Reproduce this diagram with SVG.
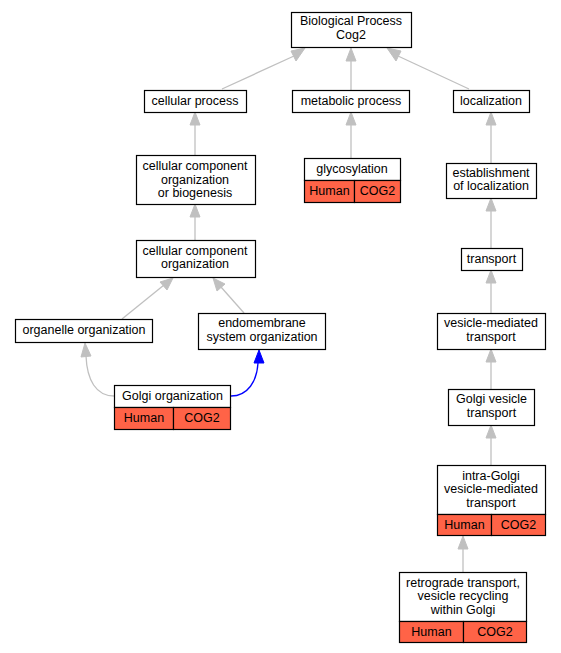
<svg xmlns="http://www.w3.org/2000/svg" width="561" height="653" viewBox="0 0 561 653">
<defs>
<style>
.b{fill:#fff;stroke:#000;stroke-width:1.2}
.o{fill:#ff6347;stroke:#000;stroke-width:1.2}
text{font-family:"Liberation Sans",Arial,sans-serif;font-size:12.5px;text-anchor:middle;fill:#000}
.e{fill:none;stroke:#c0c0c0;stroke-width:1.3}
.h{fill:#c0c0c0;stroke:#c0c0c0}
</style>
</defs>
<rect width="561" height="653" fill="#fff"/>
<g id="edges">
<line class="e" x1="222" y1="89" x2="294" y2="56"/>
<polygon class="h" points="305,48 291,51 296,61"/>
<line class="e" x1="351" y1="90" x2="351" y2="60"/>
<polygon class="h" points="351,48 346,61 356,61"/>
<line class="e" x1="469" y1="89" x2="398" y2="56"/>
<polygon class="h" points="387,48 396,61 401,51"/>
<line class="e" x1="351" y1="158" x2="351" y2="124"/>
<polygon class="h" points="351,112 346,125 356,125"/>
<line class="e" x1="195" y1="155" x2="195" y2="124"/>
<polygon class="h" points="195,112 190,125 200,125"/>
<line class="e" x1="195" y1="240" x2="195" y2="216"/>
<polygon class="h" points="195,204 190,217 200,217"/>
<line class="e" x1="491" y1="163" x2="491" y2="124"/>
<polygon class="h" points="491,112 486,125 496,125"/>
<line class="e" x1="491" y1="248" x2="491" y2="210"/>
<polygon class="h" points="491,198 486,211 496,211"/>
<line class="e" x1="491" y1="313" x2="491" y2="282"/>
<polygon class="h" points="491,270 486,283 496,283"/>
<line class="e" x1="491" y1="389" x2="491" y2="361"/>
<polygon class="h" points="491,349 486,362 496,362"/>
<line class="e" x1="491" y1="465" x2="491" y2="437"/>
<polygon class="h" points="491,425 486,438 496,438"/>
<line class="e" x1="463" y1="572" x2="463" y2="548"/>
<polygon class="h" points="463,536 458,549 468,549"/>
<line class="e" x1="122" y1="319" x2="164" y2="285"/>
<polygon class="h" points="173,278 160,282 167,290"/>
<line class="e" x1="244" y1="313" x2="221" y2="287"/>
<polygon class="h" points="213,278 217,291 225,284"/>
<path class="e" d="M114,396 C96,396 87,380 86,356"/>
<polygon class="h" points="85,343 81,357 91,356"/>
<path d="M231,396 C248,396 257,381 258,363" fill="none" stroke="#0000ff" stroke-width="1.3"/>
<polygon points="259,350 254,363 264,363" fill="#0000ff" stroke="#0000ff"/>
</g>
<g id="n_bp"><rect class="b" x="291.5" y="12.5" width="120" height="35"/><text x="351" y="25">Biological Process</text><text x="351" y="38.5">Cog2</text></g>
<g id="n_cp"><rect class="b" x="144.5" y="90.5" width="102" height="22"/><text x="195" y="104.5">cellular process</text></g>
<g id="n_mp"><rect class="b" x="292.5" y="90.5" width="117" height="22"/><text x="351" y="104.5">metabolic process</text></g>
<g id="n_loc"><rect class="b" x="453.5" y="90.5" width="76" height="22"/><text x="491" y="104.5">localization</text></g>
<g id="n_ccoob"><rect class="b" x="136.5" y="155.5" width="119" height="49"/><text x="195" y="170">cellular component</text><text x="195" y="183.5">organization</text><text x="195" y="197">or biogenesis</text></g>
<g id="n_gly"><rect class="b" x="304.5" y="158.5" width="96" height="22"/><rect class="o" x="304.5" y="180.5" width="50" height="22"/><rect class="o" x="354.5" y="180.5" width="46" height="22"/><text x="352" y="172.5">glycosylation</text><text x="329.5" y="194.5">Human</text><text x="377.5" y="194.5">COG2</text></g>
<g id="n_est"><rect class="b" x="446.5" y="163.5" width="90" height="35"/><text x="491" y="176.5">establishment</text><text x="491" y="190">of localization</text></g>
<g id="n_cco"><rect class="b" x="136.5" y="240.5" width="119" height="37"/><text x="195" y="254.5">cellular component</text><text x="195" y="268">organization</text></g>
<g id="n_tr"><rect class="b" x="461.5" y="248.5" width="61" height="22"/><text x="491.5" y="262.5">transport</text></g>
<g id="n_org"><rect class="b" x="15.5" y="319.5" width="137" height="23"/><text x="84" y="334.3">organelle organization</text></g>
<g id="n_endo"><rect class="b" x="198.5" y="313.5" width="127" height="36"/><text x="262" y="327">endomembrane</text><text x="262" y="340.5">system organization</text></g>
<g id="n_vmt"><rect class="b" x="437.5" y="313.5" width="108" height="36"/><text x="491" y="327">vesicle-mediated</text><text x="491" y="340.5">transport</text></g>
<g id="n_golgi"><rect class="b" x="114.5" y="385.5" width="116" height="22"/><rect class="o" x="114.5" y="407.5" width="59" height="22"/><rect class="o" x="173.5" y="407.5" width="57" height="22"/><text x="172.5" y="399.5">Golgi organization</text><text x="144" y="421.5">Human</text><text x="202" y="421.5">COG2</text></g>
<g id="n_gvt"><rect class="b" x="448.5" y="389.5" width="86" height="36"/><text x="491.5" y="403">Golgi vesicle</text><text x="491.5" y="416.5">transport</text></g>
<g id="n_intra"><rect class="b" x="437.5" y="465.5" width="108" height="49"/><rect class="o" x="437.5" y="514.5" width="54" height="21"/><rect class="o" x="491.5" y="514.5" width="54" height="21"/><text x="491" y="479.5">intra-Golgi</text><text x="491" y="493">vesicle-mediated</text><text x="491" y="506.5">transport</text><text x="464.5" y="528.5">Human</text><text x="518.5" y="528.5">COG2</text></g>
<g id="n_retro"><rect class="b" x="399.5" y="572.5" width="127" height="49"/><rect class="o" x="399.5" y="621.5" width="64" height="21"/><rect class="o" x="463.5" y="621.5" width="63" height="21"/><text x="463" y="586.5">retrograde transport,</text><text x="463" y="600">vesicle recycling</text><text x="463" y="613.5">within Golgi</text><text x="431.5" y="635.5">Human</text><text x="495" y="635.5">COG2</text></g>
</svg>
